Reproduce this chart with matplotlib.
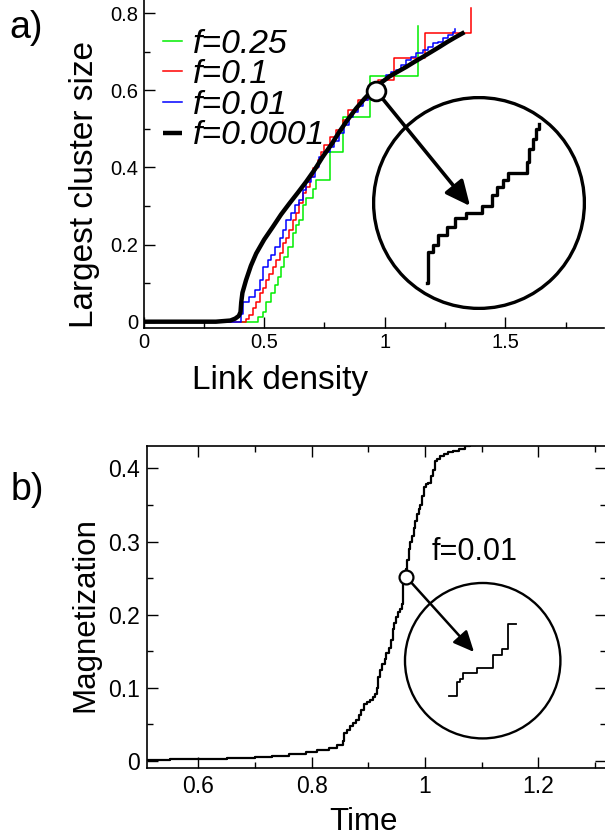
import matplotlib
matplotlib.use('Agg')
import matplotlib.pyplot as plt
from matplotlib.patches import Circle

plt.rcParams['font.family'] = ['Liberation Sans', 'DejaVu Sans']

# ---------------- data: panel a ----------------
green_x = [0, 0.474, 0.495, 0.508, 0.529, 0.543, 0.557, 0.571, 0.584, 0.598, 0.619,
           0.633, 0.646, 0.660, 0.674, 0.702, 0.716, 0.771, 0.826, 0.937, 1.137]
green_y = [0, 0.013, 0.026, 0.052, 0.074, 0.095, 0.117, 0.143, 0.169, 0.194, 0.229,
           0.251, 0.264, 0.303, 0.320, 0.345, 0.368, 0.441, 0.532, 0.637, 0.767]

red_x = [0, 0.426, 0.439, 0.453, 0.467, 0.481, 0.494, 0.508, 0.522, 0.536, 0.550, 0.564,
         0.577, 0.591, 0.605, 0.619, 0.633, 0.646, 0.660, 0.674, 0.688, 0.702, 0.723,
         0.737, 0.750, 0.771, 0.799, 0.826, 0.847, 0.888, 0.930, 0.970, 1.040, 1.165, 1.358]
red_y = [0, 0.006, 0.017, 0.035, 0.052, 0.074, 0.087, 0.108, 0.125, 0.143, 0.160, 0.177,
         0.203, 0.216, 0.238, 0.264, 0.281, 0.307, 0.333, 0.350, 0.376, 0.398, 0.419,
         0.441, 0.458, 0.480, 0.497, 0.523, 0.549, 0.575, 0.600, 0.627, 0.683, 0.748, 0.813]

blue_x = [0, 0.405, 0.412, 0.439, 0.460, 0.481, 0.494, 0.515, 0.529, 0.543, 0.564, 0.577,
          0.591, 0.612, 0.626, 0.646, 0.660, 0.674, 0.695, 0.709, 0.729, 0.750, 0.771,
          0.790, 0.810, 0.830, 0.850, 0.870, 0.890, 0.910, 0.930, 0.950, 0.970, 0.990,
          1.006, 1.026, 1.047, 1.068, 1.089, 1.109, 1.130, 1.158, 1.178, 1.199, 1.220,
          1.240, 1.261, 1.282, 1.289]
blue_y = [0, 0.02, 0.052, 0.065, 0.082, 0.108, 0.143, 0.160, 0.173, 0.195, 0.216, 0.238,
          0.264, 0.281, 0.303, 0.316, 0.342, 0.363, 0.376, 0.402, 0.428, 0.441, 0.454,
          0.470, 0.490, 0.510, 0.530, 0.545, 0.560, 0.575, 0.590, 0.600, 0.615, 0.628,
          0.640, 0.649, 0.653, 0.666, 0.679, 0.687, 0.696, 0.705, 0.713, 0.722, 0.726,
          0.735, 0.744, 0.752, 0.758]

black_x = [0, 0.30, 0.36, 0.38, 0.395, 0.402, 0.405, 0.41, 0.425, 0.445, 0.467, 0.50,
           0.536, 0.57, 0.605, 0.64, 0.674, 0.71, 0.743, 0.78, 0.812, 0.845, 0.881,
           0.915, 0.95, 0.985, 1.019, 1.055, 1.089, 1.12, 1.158, 1.19, 1.227, 1.26,
           1.29, 1.33]
black_y = [0, 0, 0.003, 0.008, 0.015, 0.025, 0.05, 0.075, 0.108, 0.145, 0.177, 0.213,
           0.246, 0.278, 0.307, 0.335, 0.363, 0.395, 0.428, 0.461, 0.493, 0.523, 0.553,
           0.578, 0.601, 0.620, 0.636, 0.649, 0.661, 0.673, 0.687, 0.699, 0.713, 0.726,
           0.737, 0.751]

labels_a = ['f=0.25', 'f=0.1', 'f=0.01', 'f=0.0001']
zoom_point_a = (0.964, 0.599)
# magnified staircase in the inset circle (inset units, circle radius = 1)
inset_a_x = [-0.489, -0.474, -0.433, -0.380, -0.302, -0.224, -0.121, 0.025, 0.119,
             0.171, 0.221, 0.274, 0.446, 0.470, 0.502, 0.533, 0.564]
inset_a_y = [-0.745, -0.455, -0.393, -0.299, -0.221, -0.143, -0.091, -0.028, 0.075,
             0.147, 0.215, 0.278, 0.386, 0.502, 0.595, 0.689, 0.738]
arrow_tip_a = (-0.084, -0.028)

# ---------------- data: panel b ----------------
time_b = [0.509, 0.55, 0.6, 0.65, 0.7, 0.73, 0.76, 0.79, 0.81, 0.83, 0.845, 0.855, 0.858,
          0.862, 0.868, 0.873, 0.878, 0.884, 0.888, 0.892, 0.897, 0.903, 0.908, 0.912,
          0.915, 0.918, 0.921, 0.925, 0.929, 0.932, 0.936, 0.94, 0.943, 0.946, 0.949,
          0.952, 0.956, 0.96, 0.962, 0.964, 0.966, 0.968, 0.971, 0.974, 0.977, 0.98,
          0.983, 0.986, 0.989, 0.992, 0.995, 0.998, 1.002, 1.006, 1.01, 1.014, 1.018,
          1.022, 1.027, 1.033, 1.04, 1.05, 1.06, 1.07, 1.08, 1.09]
mag_b = [0.002, 0.0025, 0.003, 0.004, 0.006, 0.007, 0.009, 0.012, 0.015, 0.018, 0.022,
         0.027, 0.038, 0.042, 0.048, 0.052, 0.056, 0.063, 0.070, 0.078, 0.080, 0.083,
         0.087, 0.092, 0.100, 0.115, 0.125, 0.133, 0.140, 0.148, 0.155, 0.165, 0.180,
         0.188, 0.197, 0.203, 0.208, 0.215, 0.245, 0.255, 0.262, 0.275, 0.290, 0.300,
         0.308, 0.318, 0.328, 0.338, 0.345, 0.350, 0.362, 0.375, 0.378, 0.380, 0.390,
         0.398, 0.410, 0.413, 0.417, 0.420, 0.422, 0.424, 0.427, 0.430, 0.432, 0.434]
label_b = 'f=0.01'
zoom_point_b = (0.9665, 0.252)
inset_b_x = [-0.421, -0.328, -0.286, -0.245, -0.076, 0.134, 0.240, 0.323, 0.420]
inset_b_y = [-0.445, -0.265, -0.235, -0.159, -0.096, 0.072, 0.144, 0.463, 0.463]
arrow_tip_b = (-0.11, 0.11)

# ---------------- figure ----------------
W, H = 605, 840
fig = plt.figure(figsize=(W / 100, H / 100), dpi=100)


def box(l, t, r, b):
    return [l / W, 1 - b / H, (r - l) / W, (b - t) / H]


def ftext(x, y, s, **kw):
    return fig.text(x / W, 1 - y / H, s, **kw)


# ===== panel a =====
ax1 = fig.add_axes(box(143.5, 0, 604.4, 327.7))
ax1.plot(green_x, green_y, drawstyle='steps-post', color='#00ee00', lw=1.1, label=labels_a[0])
ax1.plot(red_x, red_y, drawstyle='steps-post', color='#ff0000', lw=1.1, label=labels_a[1])
ax1.plot(blue_x, blue_y, drawstyle='steps-post', color='#0000ff', lw=1.1, label=labels_a[2])
ax1.plot(black_x, black_y, color='black', lw=3.2, label=labels_a[3], solid_capstyle='butt')
ax1.plot([zoom_point_a[0]], [zoom_point_a[1]], marker='o', ms=13.5, mfc='white',
         mec='black', mew=2.0, ls='none', zorder=5)
ax1.set_xlim(0, 1.91)
ax1.set_ylim(-0.0156, 0.8345)
ax1.set_xticks([0, 0.5, 1, 1.5])
ax1.set_xticklabels(['0', '0.5', '1', '1.5'])
ax1.set_xticks([0.25, 0.75, 1.25, 1.75], minor=True)
ax1.set_yticks([0, 0.2, 0.4, 0.6, 0.8])
ax1.set_yticklabels(['0', '0.2', '0.4', '0.6', '0.8'])
ax1.set_yticks([0.1, 0.3, 0.5, 0.7], minor=True)
ax1.tick_params(which='major', direction='in', length=8, width=1, labelsize=14.5, pad=4)
ax1.tick_params(which='minor', direction='in', length=4, width=1)
for s in ['top', 'right']:
    ax1.spines[s].set_visible(False)
for s in ['left', 'bottom']:
    ax1.spines[s].set_linewidth(1.2)
leg = ax1.legend(loc='upper left', bbox_to_anchor=(0.042, 0.913), frameon=False,
                 prop={'style': 'italic', 'size': 24.3}, handlelength=0.57,
                 handletextpad=0.33, labelspacing=-0.01, borderaxespad=0,
                 borderpad=0)

# inset circle a
cxa, cya, ra = 479, 203, 107
ins1 = fig.add_axes(box(cxa - ra, cya - ra, cxa + ra, cya + ra))
ins1.set_xlim(-1, 1)
ins1.set_ylim(-1, 1)
ins1.axis('off')
ins1.patch.set_alpha(0)
ins1.add_patch(Circle((0, 0), 0.985, fill=False, lw=2.4, ec='black'))
ins1.plot(inset_a_x, inset_a_y, drawstyle='steps-post', color='black', lw=2.4)
ax1.annotate('', xy=arrow_tip_a, xycoords=ins1.transData,
             xytext=zoom_point_a, textcoords='data',
             arrowprops=dict(arrowstyle='-|>,head_length=0.75,head_width=0.35',
                             lw=2.6, color='black', shrinkA=0, shrinkB=0,
                             mutation_scale=20))

ftext(26, 28, 'a)', fontsize=27, ha='center', va='center')
ftext(85, 184, 'Largest cluster size', fontsize=24, rotation=90, ha='center', va='center')
ftext(280, 389, 'Link density', fontsize=24, ha='center', va='baseline')

# ===== panel b =====
ax2 = fig.add_axes(box(146.7, 445.7, 606.3, 768.3))
ax2.plot(time_b, mag_b, drawstyle='steps-post', color='black', lw=1.6)
ax2.plot([zoom_point_b[0]], [zoom_point_b[1]], marker='o', ms=10, mfc='white',
         mec='black', mew=1.6, ls='none', zorder=5)
ax2.set_xlim(0.509, 1.32)
ax2.set_ylim(-0.010, 0.431)
ax2.set_xticks([0.6, 0.8, 1.0, 1.2])
ax2.set_xticklabels(['0.6', '0.8', '1', '1.2'])
ax2.set_xticks([0.7, 0.9, 1.1, 1.3], minor=True)
ax2.set_yticks([0, 0.1, 0.2, 0.3, 0.4])
ax2.set_yticklabels(['0', '0.1', '0.2', '0.3', '0.4'])
ax2.set_yticks([0.05, 0.15, 0.25, 0.35], minor=True)
ax2.tick_params(which='both', direction='in', top=True, right=True, width=1)
ax2.tick_params(which='major', length=8, labelsize=16.5, pad=5)
ax2.tick_params(which='minor', length=4)
for s in ax2.spines.values():
    s.set_linewidth(1.2)
ftext(475, 560, label_b, fontsize=22, ha='center', va='baseline')

cxb, cyb, rb = 482.7, 660.7, 79.3
ins2 = fig.add_axes(box(cxb - rb, cyb - rb, cxb + rb, cyb + rb))
ins2.set_xlim(-1, 1)
ins2.set_ylim(-1, 1)
ins2.axis('off')
ins2.patch.set_alpha(0)
ins2.add_patch(Circle((0, 0), 0.98, fill=False, lw=1.7, ec='black'))
ins2.plot(inset_b_x, inset_b_y, drawstyle='steps-post', color='black', lw=1.3)
ax2.annotate('', xy=arrow_tip_b, xycoords=ins2.transData,
             xytext=zoom_point_b, textcoords='data',
             arrowprops=dict(arrowstyle='-|>,head_length=0.7,head_width=0.32',
                             lw=1.8, color='black', shrinkA=0, shrinkB=0,
                             mutation_scale=18))

ftext(27, 490, 'b)', fontsize=27, ha='center', va='center')
ftext(85, 615, 'Magnetization', fontsize=22.5, rotation=90, ha='center', va='center')
ftext(363.5, 830, 'Time', fontsize=22.5, ha='center', va='baseline')

fig.savefig('out.png', dpi=100)
